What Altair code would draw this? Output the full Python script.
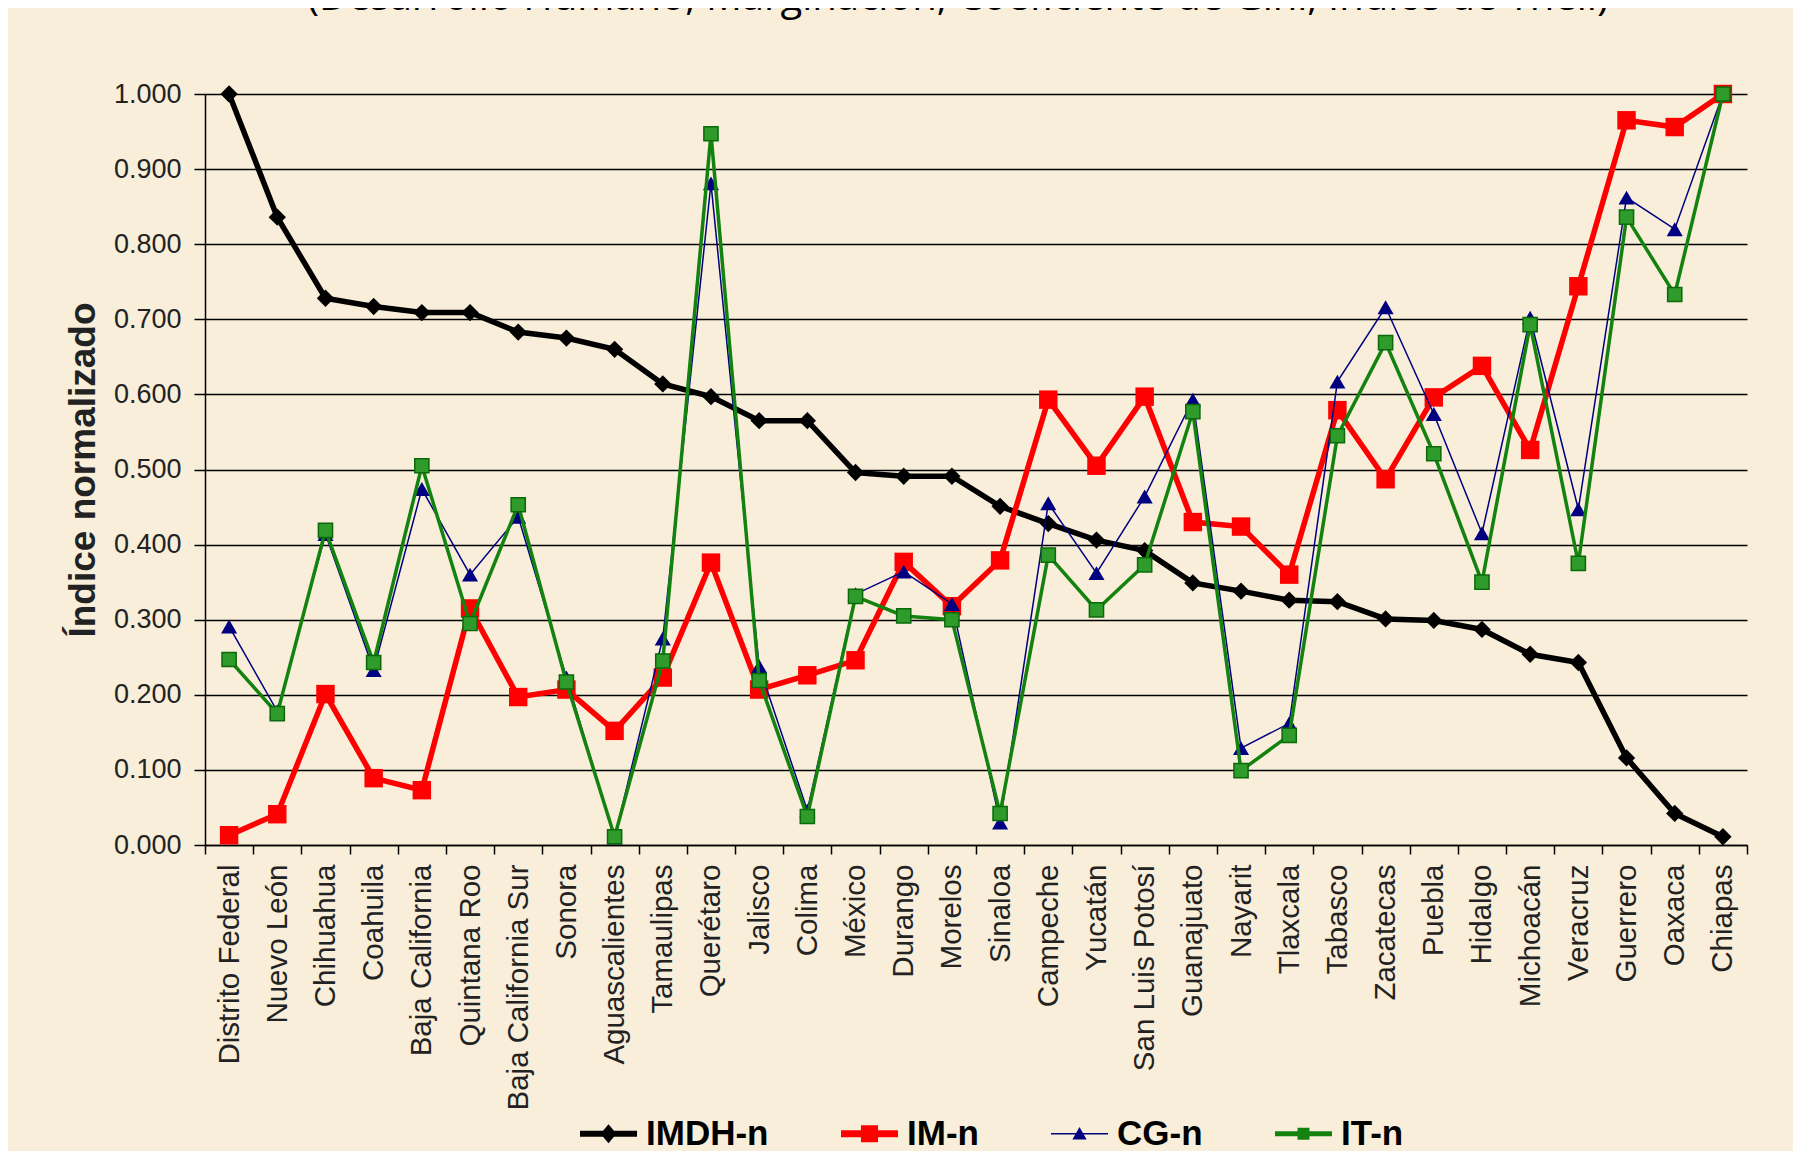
import altair as alt
import pandas as pd

titulo = "(Desarrollo Humano, Marginación, Coeficiente de Gini, Índice de Theil)"

estados = [
    "Distrito Federal", "Nuevo León", "Chihuahua", "Coahuila", "Baja California",
    "Quintana Roo", "Baja California Sur", "Sonora", "Aguascalientes", "Tamaulipas",
    "Querétaro", "Jalisco", "Colima", "México", "Durango", "Morelos", "Sinaloa",
    "Campeche", "Yucatán", "San Luis Potosí", "Guanajuato", "Nayarit", "Tlaxcala",
    "Tabasco", "Zacatecas", "Puebla", "Hidalgo", "Michoacán", "Veracruz",
    "Guerrero", "Oaxaca", "Chiapas",
]

imdh = [1.000, 0.836, 0.728, 0.717, 0.709, 0.709, 0.683, 0.675, 0.660, 0.614,
        0.597, 0.565, 0.565, 0.496, 0.491, 0.491, 0.451, 0.428, 0.406, 0.392,
        0.349, 0.338, 0.326, 0.324, 0.301, 0.299, 0.287, 0.254, 0.243, 0.116,
        0.042, 0.011]

im = [0.013, 0.041, 0.201, 0.089, 0.073, 0.315, 0.197, 0.207, 0.152, 0.223,
      0.376, 0.207, 0.226, 0.246, 0.377, 0.318, 0.379, 0.593, 0.505, 0.597,
      0.430, 0.424, 0.360, 0.579, 0.487, 0.596, 0.638, 0.526, 0.744, 0.965,
      0.956, 1.000]

cg = [0.291, 0.178, 0.414, 0.233, 0.474, 0.360, 0.437, 0.223, 0.010, 0.275,
      0.881, 0.238, 0.046, 0.334, 0.364, 0.321, 0.030, 0.455, 0.362, 0.464,
      0.593, 0.129, 0.162, 0.617, 0.716, 0.574, 0.415, 0.702, 0.447, 0.862,
      0.820, 1.000]

it = [0.247, 0.175, 0.419, 0.243, 0.505, 0.295, 0.453, 0.217, 0.011, 0.245,
      0.947, 0.219, 0.038, 0.331, 0.305, 0.300, 0.042, 0.386, 0.313, 0.373,
      0.577, 0.099, 0.146, 0.545, 0.669, 0.521, 0.350, 0.693, 0.375, 0.836,
      0.733, 1.000]

y_ticks = [0.0, 0.1, 0.2, 0.3, 0.4, 0.5, 0.6, 0.7, 0.8, 0.9, 1.0]

series = ["IMDH-n", "IM-n", "CG-n", "IT-n"]
valores = [imdh, im, cg, it]
line_colors = ["#000000", "#FF0000", "#000080", "#13820F"]
line_widths = [5.5, 5.5, 1.5, 3.5]
marker_shapes = ["diamond", "square", "triangle-up", "square"]
marker_sizes = [300, 340, 260, 200]
marker_fills = ["#000000", "#FF0000", "#000080", "#2E9B2A"]
marker_strokes = ["#000000", "#FF0000", "#000080", "#0A6A0A"]
marker_sw = [0, 0, 0, 1.5]

# composite legend symbols (line + marker), unit coordinates
legend_paths = [
    "M-1,-0.105H1V0.105H-1Z M0,-0.33L0.28,0L0,0.33L-0.28,0Z",
    "M-1,-0.12H1V0.12H-1Z M-0.3,-0.3H0.3V0.3H-0.3Z",
    "M-1,-0.03H1V0.03H-1Z M0,-0.24L0.25,0.2H-0.25Z",
    "M-1,-0.09H1V0.09H-1Z M-0.21,-0.21H0.21V0.21H-0.21Z",
]

rows = []
for s, vals in zip(series, valores):
    for i, (e, v) in enumerate(zip(estados, vals)):
        rows.append({"serie": s, "estado": e, "valor": v, "idx": i})
df = pd.DataFrame(rows)

FONT = "Liberation Sans"

x_enc = alt.X(
    "estado:N", sort=estados,
    scale=alt.Scale(type="band", paddingInner=0, paddingOuter=0),
    axis=alt.Axis(
        title=None, labelAngle=270, labelAlign="right", labelBaseline="middle",
        labelFont=FONT, labelFontSize=29.5, labelColor="#222222", labelPadding=10,
        labelLimit=400, labelOverlap=False, tickBand="extent", tickSize=9,
        tickColor="black", tickWidth=1.5, domainColor="black", domainWidth=1.5,
        grid=False,
    ),
)

y_enc = alt.Y(
    "valor:Q",
    scale=alt.Scale(domain=[0, 1], nice=False, zero=True),
    axis=alt.Axis(
        title="Índice normalizado", values=y_ticks, format=".3f",
        labelFont=FONT, labelFontSize=27, labelColor="#222222", labelPadding=13,
        tickSize=11, tickColor="black", tickWidth=1.5,
        domainColor="black", domainWidth=1.5,
        grid=True, gridColor="black", gridWidth=1.3, gridOpacity=1,
        titleFont=FONT, titleFontSize=37, titleFontWeight="bold",
        titleColor="#222222", titlePadding=11,
    ),
)

layers = []
for k, s in enumerate(series):
    base = alt.Chart().transform_filter(alt.datum.serie == s)
    line = base.mark_line(color=line_colors[k], strokeWidth=line_widths[k]).encode(
        x=x_enc, y=y_enc, order=alt.Order("idx:Q")
    )
    pts = base.mark_point(
        shape=marker_shapes[k], size=marker_sizes[k], filled=True,
        fill=marker_fills[k], stroke=marker_strokes[k], strokeWidth=marker_sw[k],
        opacity=1,
    ).encode(x=x_enc, y=y_enc)
    layers += [line, pts]

leg = alt.Legend(
    title=None, orient="none", legendX=375, legendY=1011, direction="horizontal",
    columns=4, columnPadding=72, padding=0, symbolOffset=0, symbolSize=3249,
    symbolStrokeWidth=0, symbolOpacity=1, labelFont=FONT, labelFontSize=35,
    labelFontWeight="bold", labelColor="black", labelOffset=9, labelLimit=400,
)

leg_layer = alt.Chart(pd.DataFrame({"serie": series})).mark_point(
    filled=True, opacity=0
).encode(
    color=alt.Color("serie:N", scale=alt.Scale(domain=series, range=line_colors), legend=leg),
    shape=alt.Shape("serie:N", scale=alt.Scale(domain=series, range=legend_paths), legend=leg),
)

title_layer = alt.Chart(pd.DataFrame({"t": [titulo]})).mark_text(
    font="Open Sans", fontSize=40, align="center", baseline="alphabetic", color="black"
).encode(text="t:N", x=alt.value(753), y=alt.value(-84))

chart = alt.layer(*layers, leg_layer, title_layer, data=df).properties(
    width=1542, height=751,
    autosize=alt.AutoSizeParams(type="none"),
    padding={"left": 197, "top": 86, "right": 46, "bottom": 306},
    background="#F8EEDA",
).configure_view(strokeWidth=0)

chart.save("out.html", embed_options={"renderer": "svg", "actions": False})
